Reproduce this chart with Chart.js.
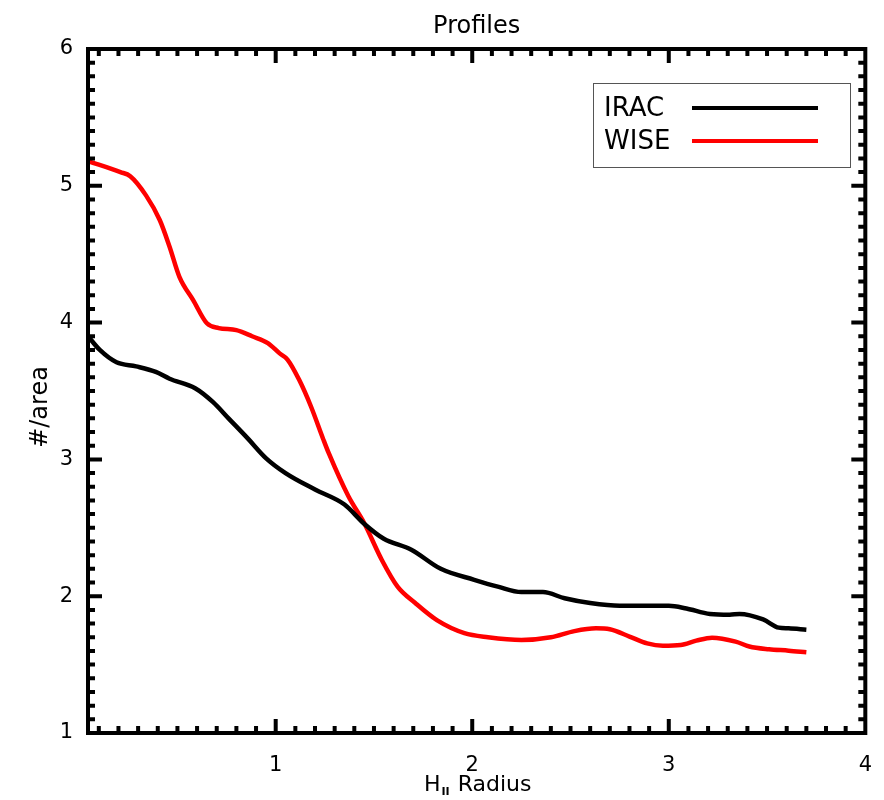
<!DOCTYPE html>
<html lang="en">
<head>
  <meta charset="UTF-8">
  <title>Profiles</title>
  <script src="https://cdn.jsdelivr.net/npm/chart.js"></script>
  <style>
    body { margin: 0; background: #ffffff; }
    #chart-container { width: 884px; height: 800px; }
  </style>
</head>
<body>

<div id="chart-container">
  <canvas id="myChart"></canvas>
</div>

<script>
// values
const iracX = [0.045, 0.105, 0.19, 0.29, 0.39, 0.46, 0.59, 0.68, 0.76, 0.86, 0.95, 1.05, 1.20, 1.35, 1.45,
               1.55, 1.69, 1.84, 2.01, 2.13, 2.25, 2.36, 2.47, 2.60, 2.75, 2.89, 3.00, 3.09, 3.21, 3.31,
               3.36, 3.48, 3.56, 3.61, 3.70];
const iracY = [3.90, 3.80, 3.71, 3.68, 3.64, 3.59, 3.52, 3.42, 3.30, 3.15, 3.01, 2.90, 2.78, 2.67, 2.53,
               2.42, 2.34, 2.20, 2.12, 2.07, 2.03, 2.03, 1.985, 1.95, 1.93, 1.93, 1.93, 1.91, 1.87, 1.865,
               1.87, 1.83, 1.77, 1.765, 1.755];

const wiseX = [0.045, 0.21, 0.26, 0.34, 0.41, 0.46, 0.51, 0.58, 0.65, 0.71, 0.80, 0.88, 0.96, 1.02, 1.06,
               1.12, 1.18, 1.24, 1.27, 1.37, 1.45, 1.54, 1.62, 1.71, 1.82, 1.96, 2.08, 2.25, 2.40, 2.52,
               2.63, 2.70, 2.80, 2.89, 2.97, 3.06, 3.14, 3.22, 3.34, 3.41, 3.51, 3.61, 3.70];
const wiseY = [5.18, 5.10, 5.07, 4.93, 4.75, 4.555, 4.335, 4.165, 3.995, 3.96, 3.945, 3.90, 3.85, 3.775, 3.73,
               3.58, 3.385, 3.155, 3.045, 2.73, 2.535, 2.265, 2.07, 1.95, 1.825, 1.73, 1.70, 1.68, 1.70, 1.745,
               1.765, 1.758, 1.705, 1.655, 1.638, 1.643, 1.675, 1.697, 1.668, 1.632, 1.612, 1.602, 1.59];

const seriesNames = ['IRAC', 'WISE'];
const seriesColors = ['#000000', '#ff0000'];
const xTicks = [1, 2, 3, 4];
const yTicks = [1, 2, 3, 4, 5, 6];
const xMin = 0.045, xMax = 4, yMin = 1, yMax = 6;

function toPoints(xs, ys) {
  return xs.map((x, i) => ({ x: x, y: ys[i] }));
}

// IDL style box: thick frame with inward major and minor ticks on all sides
const idlAxes = {
  id: 'idlAxes',
  afterDatasetsDraw(chart) {
    const ctx = chart.ctx;
    const a = chart.chartArea;
    const xs = chart.scales.x, ys = chart.scales.y;
    ctx.save();
    ctx.strokeStyle = '#000';
    ctx.lineWidth = 4;
    ctx.lineCap = 'butt';
    ctx.strokeRect(a.left, a.top, a.right - a.left, a.bottom - a.top);

    ctx.beginPath();
    for (let i = 1; i <= 39; i++) {
      const v = i / 10;
      if (v < xMin) continue;
      const px = xs.getPixelForValue(v);
      const len = (i % 10 === 0) ? 14 : 7;
      ctx.moveTo(px, a.bottom); ctx.lineTo(px, a.bottom - len);
      ctx.moveTo(px, a.top); ctx.lineTo(px, a.top + len);
    }
    for (let i = 11; i <= 59; i++) {
      const py = ys.getPixelForValue(i / 10);
      const len = (i % 10 === 0) ? 14 : 7;
      ctx.moveTo(a.left, py); ctx.lineTo(a.left + len, py);
      ctx.moveTo(a.right, py); ctx.lineTo(a.right - len, py);
    }
    ctx.stroke();

    ctx.fillStyle = '#000';
    ctx.textBaseline = 'middle';

    // title
    ctx.textAlign = 'center';
    ctx.font = '24px "DejaVu Sans"';
    ctx.fillText('Profiles', (a.left + a.right) / 2, 27);

    // x title with subscript II
    ctx.textAlign = 'left';
    ctx.font = '22px "DejaVu Sans"';
    const hw = ctx.measureText('H').width;
    ctx.font = 'bold 11px "DejaVu Sans"';
    const iiw = ctx.measureText('II').width;
    ctx.font = '22px "DejaVu Sans"';
    const rw = ctx.measureText(' Radius').width;
    let tx = (a.left + a.right) / 2 - (hw + iiw + rw) / 2;
    ctx.fillText('H', tx, 785);
    ctx.font = 'bold 11px "DejaVu Sans"';
    ctx.fillText('II', tx + hw + 1, 792);
    ctx.font = '22px "DejaVu Sans"';
    ctx.fillText(' Radius', tx + hw + iiw + 2, 785);

    // y title
    ctx.save();
    ctx.translate(41, 407);
    ctx.rotate(-Math.PI / 2);
    ctx.textAlign = 'center';
    ctx.font = '24px "DejaVu Sans"';
    ctx.fillText('#/area', 0, 0);
    ctx.restore();

    // legend box inside the plot
    ctx.lineWidth = 1;
    ctx.strokeStyle = '#555';
    ctx.strokeRect(593.5, 83.5, 257, 84);
    ctx.font = '26px "DejaVu Sans"';
    ctx.textAlign = 'left';
    chart.data.datasets.forEach((ds, i) => {
      const y = 108 + i * 33;
      ctx.fillStyle = '#000';
      ctx.fillText(ds.label, 604, y + 1);
      ctx.strokeStyle = ds.borderColor;
      ctx.lineWidth = 4;
      ctx.beginPath();
      ctx.moveTo(692, y); ctx.lineTo(818, y);
      ctx.stroke();
    });
    ctx.restore();
  }
};

const ctx = document.getElementById('myChart').getContext('2d');
new Chart(ctx, {
  type: 'line',
  data: {
    datasets: [
      { label: seriesNames[0], data: toPoints(iracX, iracY), borderColor: seriesColors[0], borderWidth: 4.5, pointRadius: 0, cubicInterpolationMode: 'monotone', fill: false },
      { label: seriesNames[1], data: toPoints(wiseX, wiseY), borderColor: seriesColors[1], borderWidth: 4.5, pointRadius: 0, cubicInterpolationMode: 'monotone', fill: false }
    ]
  },
  options: {
    responsive: true,
    maintainAspectRatio: false,
    animation: false,
    layout: { padding: { left: 0, right: 14, top: 49, bottom: 0 } },
    plugins: {
      legend: { display: false },
      tooltip: { enabled: false },
      title: { display: false }
    },
    scales: {
      x: {
        type: 'linear',
        min: xMin, max: xMax,
        grid: { display: false },
        border: { display: false },
        afterBuildTicks: s => { s.ticks = xTicks.map(v => ({ value: v })); },
        afterFit: s => { s.height = 67; },
        ticks: { color: '#000', font: { family: '"DejaVu Sans"', size: 21 }, padding: 12, maxRotation: 0 }
      },
      y: {
        min: yMin, max: yMax,
        grid: { display: false },
        border: { display: false },
        afterBuildTicks: s => { s.ticks = yTicks.map(v => ({ value: v })); },
        afterFit: s => { s.width = 88; },
        ticks: { color: '#000', font: { family: '"DejaVu Sans"', size: 21 }, padding: 7 }
      }
    }
  },
  plugins: [idlAxes]
});
</script>

</body>
</html>
